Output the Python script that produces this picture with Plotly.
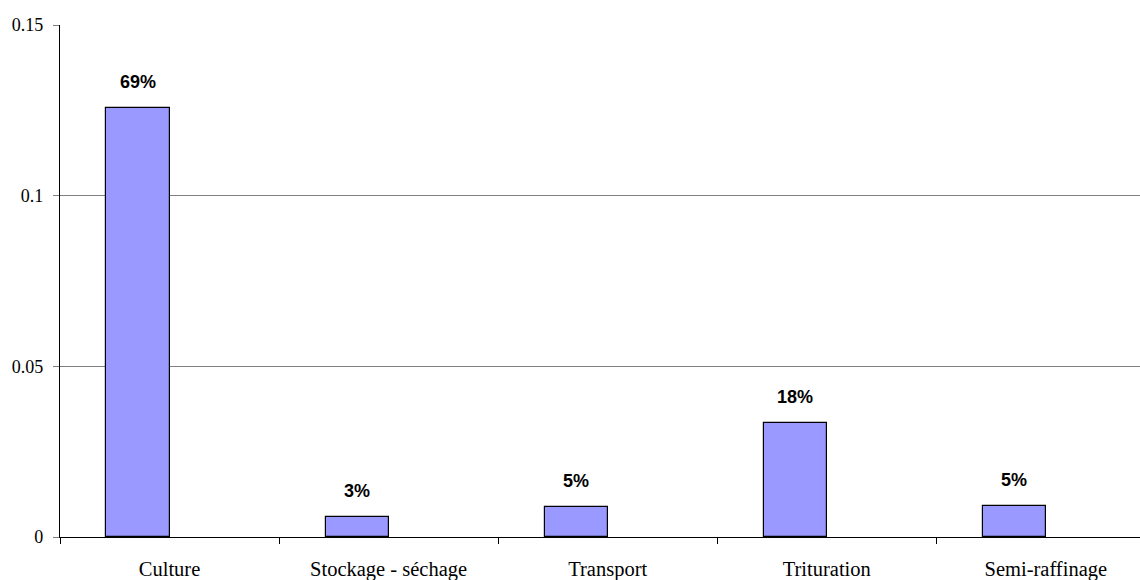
import plotly.graph_objects as go

# Étapes du cycle de vie et contribution de chacune
categories = ["Culture", "Stockage - séchage", "Transport", "Trituration", "Semi-raffinage"]
values = [0.1258, 0.0058, 0.0087, 0.0334, 0.0090]

total = sum(values)
shares = [f"{round(v / total * 100)}%" for v in values]

SERIF = "Liberation Serif"
SANS = "Liberation Sans"
BAR_W = 0.288
positions = list(range(len(categories)))

fig = go.Figure()
fig.add_trace(go.Bar(
    x=positions,
    y=values,
    width=BAR_W,
    offset=-BAR_W,
    marker=dict(color="#9999FF", line=dict(color="#000000", width=1.2)),
    hoverinfo="skip",
))

# Pourcentages au-dessus des barres
for p, v, s in zip(positions, values, shares):
    fig.add_annotation(
        x=p - BAR_W / 2, y=v, text=f"<b>{s}</b>",
        showarrow=False, yanchor="middle", yshift=26,
        font=dict(family=SANS, size=18, color="#000000"),
    )

fig.update_layout(
    width=1140, height=580,
    margin=dict(l=60, r=0, t=25, b=42.5),
    paper_bgcolor="#FFFFFF",
    plot_bgcolor="#FFFFFF",
    showlegend=False,
    font=dict(family=SERIF, color="#000000"),
    bargap=0,
)

fig.update_xaxes(
    type="category",
    tickson="boundaries",
    tickmode="array",
    tickvals=positions,
    ticktext=categories,
    range=[-0.5, 4.43],
    showgrid=False,
    zeroline=False,
    showline=True, linecolor="#000000", linewidth=1.2,
    ticks="outside", ticklen=6, tickcolor="#000000", tickwidth=1,
    tickfont=dict(size=20.5, family=SERIF, color="#000000"),
    ticklabelstandoff=13,
)

fig.update_yaxes(
    range=[0, 0.15],
    tickvals=[0, 0.05, 0.1, 0.15],
    ticktext=["0", "0.05", "0.1", "0.15"],
    showgrid=True, gridcolor="#808080", gridwidth=1.2,
    zeroline=False,
    showline=True, linecolor="#000000", linewidth=1.2,
    ticks="outside", ticklen=6, tickcolor="#808080", tickwidth=1,
    tickfont=dict(size=18, family=SERIF, color="#000000"),
    ticklabelstandoff=6,
)

fig.write_html("out.html")
